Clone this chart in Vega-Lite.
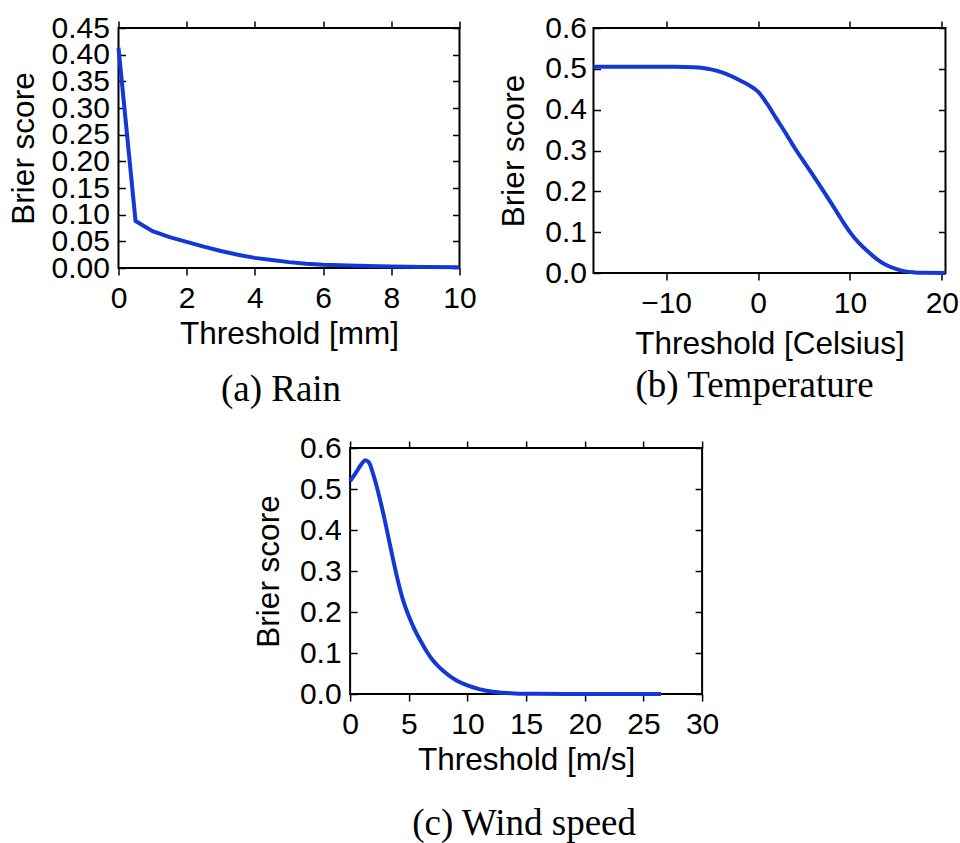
{
  "$schema": "https://vega.github.io/schema/vega-lite/v6.json",
  "padding": {"left": 7, "top": 12, "right": 0, "bottom": 0},
  "background": "white",
  "datasets": {
    "rain": [
      {"t": 0, "bs": 0.413}, {"t": 0.5, "bs": 0.088}, {"t": 1, "bs": 0.069}, {"t": 1.5, "bs": 0.058},
      {"t": 2, "bs": 0.049}, {"t": 2.5, "bs": 0.040}, {"t": 3, "bs": 0.032}, {"t": 3.5, "bs": 0.025},
      {"t": 4, "bs": 0.019}, {"t": 4.5, "bs": 0.015}, {"t": 5, "bs": 0.011}, {"t": 5.5, "bs": 0.008},
      {"t": 6, "bs": 0.006}, {"t": 6.5, "bs": 0.005}, {"t": 7, "bs": 0.004}, {"t": 8, "bs": 0.003},
      {"t": 9, "bs": 0.002}, {"t": 10, "bs": 0.0015}
    ],
    "temp": [
      {"t": -17.9, "bs": 0.505}, {"t": -15, "bs": 0.505}, {"t": -12, "bs": 0.505}, {"t": -9, "bs": 0.505},
      {"t": -7, "bs": 0.504}, {"t": -6, "bs": 0.502}, {"t": -5, "bs": 0.498}, {"t": -4, "bs": 0.492},
      {"t": -3, "bs": 0.483}, {"t": -2, "bs": 0.472}, {"t": -1, "bs": 0.460}, {"t": 0, "bs": 0.444},
      {"t": 1, "bs": 0.414}, {"t": 2, "bs": 0.378}, {"t": 3, "bs": 0.343}, {"t": 4, "bs": 0.306},
      {"t": 5, "bs": 0.272}, {"t": 6, "bs": 0.239}, {"t": 7, "bs": 0.205}, {"t": 8, "bs": 0.170},
      {"t": 9, "bs": 0.134}, {"t": 10, "bs": 0.100}, {"t": 11, "bs": 0.073}, {"t": 12, "bs": 0.052},
      {"t": 13, "bs": 0.033}, {"t": 14, "bs": 0.019}, {"t": 15, "bs": 0.010}, {"t": 16, "bs": 0.004},
      {"t": 17, "bs": 0.0015}, {"t": 18, "bs": 0.0005}, {"t": 20.4, "bs": 0}
    ],
    "wind": [
      {"t": 0, "bs": 0.519}, {"t": 0.5, "bs": 0.540}, {"t": 1.0, "bs": 0.562}, {"t": 1.3, "bs": 0.570},
      {"t": 1.6, "bs": 0.565}, {"t": 2.0, "bs": 0.533}, {"t": 2.5, "bs": 0.480}, {"t": 3.0, "bs": 0.418},
      {"t": 3.5, "bs": 0.350}, {"t": 4.0, "bs": 0.285}, {"t": 4.5, "bs": 0.230}, {"t": 5.0, "bs": 0.190},
      {"t": 5.5, "bs": 0.157}, {"t": 6.0, "bs": 0.130}, {"t": 6.5, "bs": 0.105}, {"t": 7.0, "bs": 0.084},
      {"t": 7.5, "bs": 0.068}, {"t": 8.0, "bs": 0.055}, {"t": 9.0, "bs": 0.034}, {"t": 10.0, "bs": 0.021},
      {"t": 11.0, "bs": 0.012}, {"t": 12.0, "bs": 0.006}, {"t": 13.0, "bs": 0.003}, {"t": 14.0, "bs": 0.0015},
      {"t": 16.0, "bs": 0.0005}, {"t": 20.0, "bs": 0.0001}, {"t": 26.5, "bs": 0}
    ]
  },
  "config": {
    "font": "Liberation Sans",
    "view": {"stroke": "black", "strokeWidth": 2},
    "axis": {
      "labelFont": "Liberation Sans", "labelFontSize": 30, "labelColor": "black",
      "titleFont": "Liberation Sans", "titleFontSize": 31.5, "titleFontWeight": "normal", "titleColor": "black",
      "domain": false, "grid": false, "tickColor": "black", "tickWidth": 1.5,
      "labelFlush": false, "labelOverlap": false, "labelBound": false
    },
    "axisX": {"tickSize": 7, "labelPadding": 8, "titlePadding": 5},
    "axisY": {"tickSize": -7, "labelPadding": 16, "titlePadding": 14},
    "title": {"font": "Liberation Serif", "fontSize": 37, "fontWeight": "normal", "color": "black", "anchor": "middle", "frame": "group"}
  },
  "center": true,
  "spacing": 23,
  "vconcat": [
    {
      "spacing": 20,
      "hconcat": [
        {
          "width": 341, "height": 240,
          "data": {"name": "rain"},
          "title": {"text": "(a) Rain", "orient": "bottom", "offset": 22, "dx": -8},
          "layer": [
            {
              "mark": {"type": "line", "color": "#1438d8", "strokeWidth": 4},
              "encoding": {
                "x": {"field": "t", "type": "quantitative", "scale": {"domain": [0, 10]},
                      "axis": {"title": "Threshold [mm]", "values": [0, 2, 4, 6, 8, 10]}},
                "y": {"field": "bs", "type": "quantitative", "scale": {"domain": [0, 0.45]},
                      "axis": {"title": "Brier score", "titlePadding": 11, "format": ".2f", "values": [0, 0.05, 0.1, 0.15, 0.2, 0.25, 0.3, 0.35, 0.4, 0.45]}}
              }
            },
            {
              "mark": {"type": "line", "strokeOpacity": 0},
              "encoding": {
                "x": {"field": "t", "type": "quantitative", "scale": {"domain": [0, 10]},
                      "axis": {"orient": "top", "labels": false, "title": null, "values": [0, 2, 4, 6, 8, 10]}},
                "y": {"field": "bs", "type": "quantitative", "scale": {"domain": [0, 0.45]},
                      "axis": {"orient": "right", "labels": false, "title": null, "values": [0, 0.05, 0.1, 0.15, 0.2, 0.25, 0.3, 0.35, 0.4, 0.45]}}
              }
            }
          ],
          "resolve": {"axis": {"x": "independent", "y": "independent"}}
        },
        {
          "width": 352, "height": 245,
          "data": {"name": "temp"},
          "title": {"text": "(b) Temperature", "orient": "bottom", "offset": 8, "dx": -15},
          "layer": [
            {
              "mark": {"type": "line", "color": "#1438d8", "strokeWidth": 4, "interpolate": "monotone"},
              "encoding": {
                "x": {"field": "t", "type": "quantitative", "scale": {"domain": [-17.9, 20.4], "nice": false},
                      "axis": {"title": "Threshold [Celsius]", "values": [-10, 0, 10, 20], "titlePadding": 10}},
                "y": {"field": "bs", "type": "quantitative", "scale": {"domain": [0, 0.6]},
                      "axis": {"title": "Brier score", "format": ".1f", "labelPadding": 14, "values": [0, 0.1, 0.2, 0.3, 0.4, 0.5, 0.6]}}
              }
            },
            {
              "mark": {"type": "line", "strokeOpacity": 0},
              "encoding": {
                "x": {"field": "t", "type": "quantitative", "scale": {"domain": [-17.9, 20.4], "nice": false},
                      "axis": {"orient": "top", "labels": false, "title": null, "values": [-10, 0, 10, 20]}},
                "y": {"field": "bs", "type": "quantitative", "scale": {"domain": [0, 0.6]},
                      "axis": {"orient": "right", "labels": false, "title": null, "values": [0, 0.1, 0.2, 0.3, 0.4, 0.5, 0.6]}}
              }
            }
          ],
          "resolve": {"axis": {"x": "independent", "y": "independent"}}
        }
      ]
    },
    {
      "width": 352, "height": 246,
      "data": {"name": "wind"},
      "title": {"text": "(c) Wind speed", "orient": "bottom", "offset": 30, "dx": -2},
      "layer": [
        {
          "mark": {"type": "line", "color": "#1438d8", "strokeWidth": 4, "interpolate": "monotone"},
          "encoding": {
            "x": {"field": "t", "type": "quantitative", "scale": {"domain": [0, 30]},
                  "axis": {"title": "Threshold [m/s]", "values": [0, 5, 10, 15, 20, 25, 30]}},
            "y": {"field": "bs", "type": "quantitative", "scale": {"domain": [0, 0.6]},
                  "axis": {"title": "Brier score", "format": ".1f", "values": [0, 0.1, 0.2, 0.3, 0.4, 0.5, 0.6]}}
          }
        },
        {
          "mark": {"type": "line", "strokeOpacity": 0},
          "encoding": {
            "x": {"field": "t", "type": "quantitative", "scale": {"domain": [0, 30]},
                  "axis": {"orient": "top", "labels": false, "title": null, "values": [0, 5, 10, 15, 20, 25, 30]}},
            "y": {"field": "bs", "type": "quantitative", "scale": {"domain": [0, 0.6]},
                  "axis": {"orient": "right", "title": null, "values": [0, 0.1, 0.2, 0.3, 0.4, 0.5, 0.6],
                           "labelExpr": "'0'", "labelFontSize": 14, "labelOpacity": 0, "labelPadding": 24}}
          }
        }
      ],
      "resolve": {"axis": {"x": "independent", "y": "independent"}}
    }
  ]
}
